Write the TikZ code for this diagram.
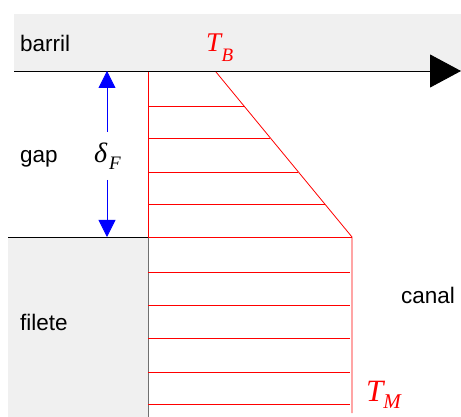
\documentclass[tikz,border=0pt]{standalone}
\usepackage{fontspec}
\setmainfont{Liberation Sans}
\newfontfamily\tms{Liberation Serif}
\usetikzlibrary{arrows.meta}
\definecolor{bggray}{HTML}{F0F0F0}
\definecolor{edgegray}{HTML}{707070}
\begin{document}
\begin{tikzpicture}[x=1pt,y=-1pt,
  lbl/.style={inner sep=0pt,anchor=base west,font=\fontsize{22.5}{26}\selectfont},
  sym/.style={inner sep=0pt,anchor=base west},
  prof/.style={red,line width=0.8pt},
  dim/.style={blue,line width=0.8pt,-{Triangle[length=17pt,width=17pt]}}]
\useasboundingbox (0,0) rectangle (461,417);
% regions
\fill[bggray] (14,14) rectangle (461,71);
\fill[bggray] (8,237) rectangle (148,417);
\draw[edgegray,line width=1pt] (148,237) -- (148,417);
\draw[black,line width=0.8pt] (8,237) -- (148,237);
% labels
\node[lbl] (barril) at (20,52) {barril};
\node[lbl] (gap) at (20,163) {gap};
\node[lbl] (filete) at (20,330) {filete};
\node[lbl] (canal) at (401,303) {canal};
\node[sym,red] (TB) at (206,52)
  {\tms\itshape\fontsize{27}{30}\selectfont T\kern0.5pt\raisebox{-10pt}{\fontsize{19}{22}\selectfont B}};
\node[sym,red] (TM) at (366,401)
  {\tms\itshape\fontsize{31}{34}\selectfont T\kern0pt\raisebox{-7pt}{\fontsize{21}{24}\selectfont M}};
\node[sym] (delta) at (94,163)
  {\tms\itshape\fontsize{28}{31}\selectfont δ\kern2pt\raisebox{-7pt}{\fontsize{19}{22}\selectfont F}};
% barrel axis
\coordinate (axs) at (14,71);
\coordinate (axe) at (461,71);
\draw[line width=0.9pt,-{Triangle[length=31pt,width=33pt]}] (axs) -- (axe);
% gap dimension
\coordinate (dtop) at (107,71);
\coordinate (dbot) at (107,237);
\coordinate (dgt) at (107,132);
\coordinate (dgb) at (107,180);
\draw[dim] (dgt) -- (dtop);
\draw[dim] (dgb) -- (dbot);
% temperature profile
\coordinate (p0) at (148,72);
\coordinate (p1) at (148,237);
\coordinate (s0) at (216,72);
\coordinate (s1) at (352,237);
\coordinate (b1) at (352,413);
\draw[prof] (p0) -- (p1);
\draw[prof] (s0) -- (s1) -- (b1);
\draw[prof] (p1) -- (s1);
\foreach \y in {106,138,172,204}{
  \draw[prof] (148,\y) -- ({216+(\y-72)/165*136},\y);
}
\foreach \y in {272,305,338,372,404}{
  \draw[prof] (148,\y) -- (350,\y);
}
\end{tikzpicture}
\end{document}
